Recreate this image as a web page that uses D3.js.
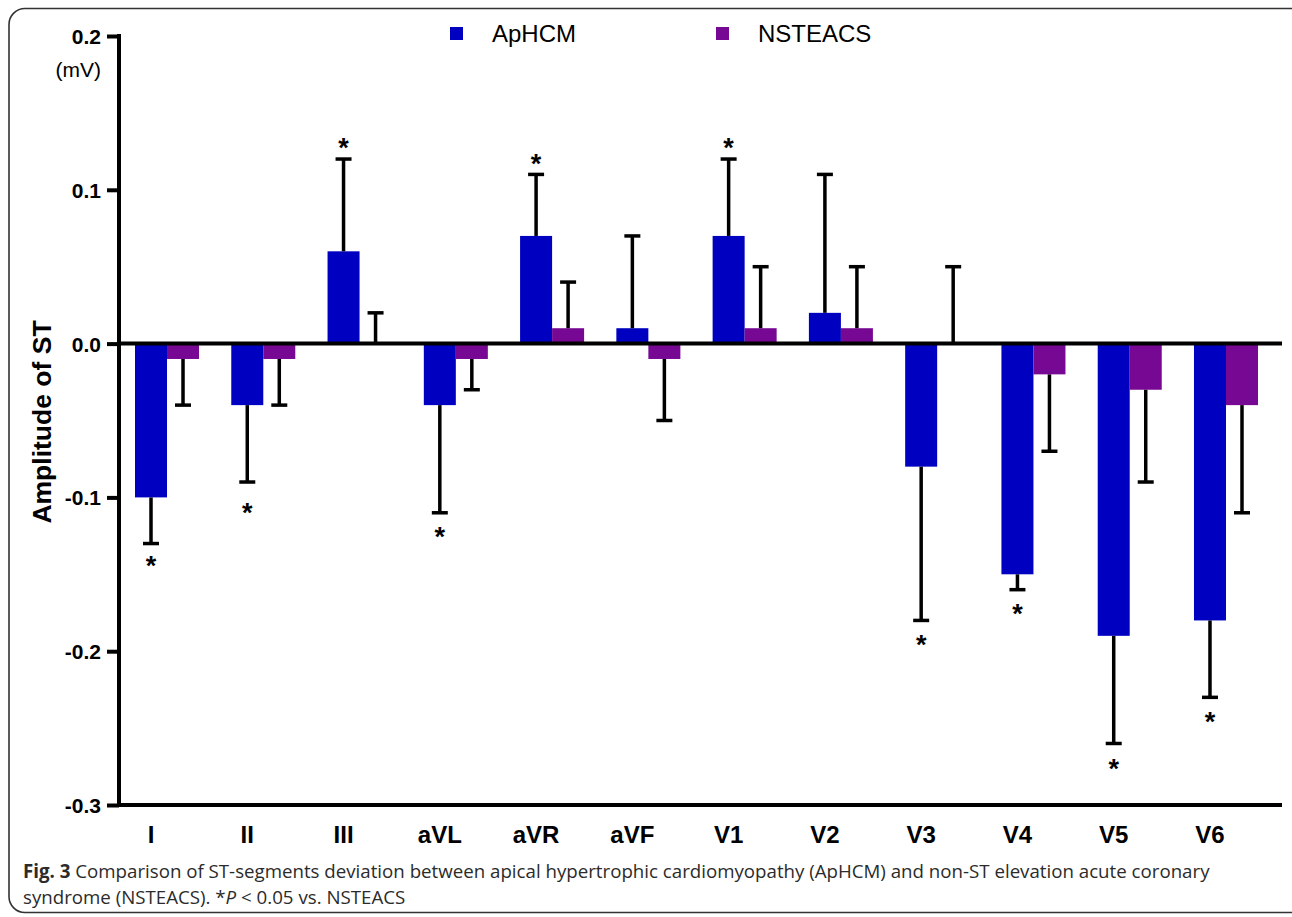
<!DOCTYPE html>
<html>
<head>
<meta charset="utf-8">
<script src="https://cdn.jsdelivr.net/npm/d3@7/dist/d3.min.js"></script>
<style>
  html, body { margin: 0; padding: 0; background: #fff; }
  svg { display: block; }
  .axis text { font-family: "Liberation Sans", Arial, sans-serif; font-weight: bold; fill: #000; }
</style>
</head>
<body>
<svg id="chart" width="1292" height="917"></svg>
<script>
// ECG leads
const leads = ["I", "II", "III", "aVL", "aVR", "aVF", "V1", "V2", "V3", "V4", "V5", "V6"];
const groups = ["ApHCM", "NSTEACS"];

// mean ST amplitude (mV)
const aphcmMean = [-0.10, -0.04, 0.06, -0.04, 0.07, 0.01, 0.07, 0.02, -0.08, -0.15, -0.19, -0.18];
const nsteacsMean = [-0.01, -0.01, 0.00, -0.01, 0.01, -0.01, 0.01, 0.01, 0.00, -0.02, -0.03, -0.04];

// standard deviation (one-sided bars)
const aphcmSD = [0.03, 0.05, 0.06, 0.07, 0.04, 0.06, 0.05, 0.09, 0.10, 0.01, 0.07, 0.05];
const nsteacsSD = [0.03, 0.03, 0.02, 0.02, 0.03, 0.04, 0.04, 0.04, 0.05, 0.05, 0.06, 0.07];

// *P < 0.05 vs. NSTEACS, and the amplitude where each asterisk sits
const aphcmSig = [true, true, true, true, true, false, true, false, true, true, true, true];
const sigMarkAt = [-0.141, -0.106, 0.131, -0.122, 0.121, null, 0.131, null, -0.192, -0.172, -0.273, -0.242];

const yTicks = [0.2, 0.1, 0.0, -0.1, -0.2, -0.3];
const colors = { ApHCM: "#0000c0", NSTEACS: "#770893" };

const svg = d3.select("#chart");

// rounded frame around the figure
svg.append("rect")
  .attr("x", 9).attr("y", 8.5)
  .attr("width", 1300).attr("height", 904)
  .attr("rx", 16).attr("ry", 16)
  .attr("fill", "none").attr("stroke", "#333").attr("stroke-width", 1.6);

const plot = { left: 119, right: 1282, top: 36, bottom: 805 };

const y = d3.scaleLinear().domain([-0.3, 0.2]).range([plot.bottom, plot.top]);
const x = d3.scaleBand().domain(leads)
  .range([plot.left + 16, plot.right - 24])
  .paddingInner(0.335).paddingOuter(0);
const xSub = d3.scaleBand().domain(groups).range([0, x.bandwidth()]);

const rows = leads.map((lead, i) => ({
  lead,
  values: [
    { group: "ApHCM", mean: aphcmMean[i], sd: aphcmSD[i] },
    { group: "NSTEACS", mean: nsteacsMean[i], sd: nsteacsSD[i] }
  ]
}));

// bars
const g = svg.append("g");
const grp = g.selectAll("g.lead").data(rows).join("g")
  .attr("class", "lead")
  .attr("transform", d => `translate(${x(d.lead)},0)`);

grp.selectAll("rect").data(d => d.values).join("rect")
  .attr("x", d => xSub(d.group))
  .attr("width", xSub.bandwidth())
  .attr("y", d => y(Math.max(0, d.mean)))
  .attr("height", d => Math.abs(y(d.mean) - y(0)))
  .attr("fill", d => colors[d.group]);

// one-sided error bars pointing away from zero (zero means point upward)
const capHalf = 8;
grp.selectAll("g.err").data(d => d.values).join("g")
  .attr("class", "err")
  .each(function(d) {
    const cx = xSub(d.group) + xSub.bandwidth() / 2;
    const dir = d.mean >= 0 ? 1 : -1;
    const end = d.mean + dir * d.sd;
    const sel = d3.select(this);
    sel.append("line")
      .attr("x1", cx).attr("x2", cx)
      .attr("y1", y(d.mean)).attr("y2", y(end))
      .attr("stroke", "#000").attr("stroke-width", 3.5);
    sel.append("line")
      .attr("x1", cx - capHalf).attr("x2", cx + capHalf)
      .attr("y1", y(end)).attr("y2", y(end))
      .attr("stroke", "#000").attr("stroke-width", 3.5);
  });

// significance asterisks
leads.forEach((lead, i) => {
  if (!aphcmSig[i]) return;
  const cx = x(lead) + xSub("ApHCM") + xSub.bandwidth() / 2;
  svg.append("text")
    .attr("x", cx).attr("y", y(sigMarkAt[i]) + 15)
    .attr("text-anchor", "middle")
    .attr("font-family", "Liberation Sans, Arial, sans-serif")
    .attr("font-weight", "bold").attr("font-size", 27)
    .text("*");
});

// zero line
svg.append("line")
  .attr("x1", plot.left).attr("x2", plot.right)
  .attr("y1", y(0)).attr("y2", y(0))
  .attr("stroke", "#000").attr("stroke-width", 4);

// y axis (hyphen-minus in tick labels)
const fmt = d => d3.format(".1f")(d).replace("\u2212", "-");
const yAxis = svg.append("g").attr("class", "axis")
  .attr("transform", `translate(${plot.left},0)`)
  .call(d3.axisLeft(y).tickValues(yTicks).tickFormat(fmt)
    .tickSize(12).tickSizeOuter(0).tickPadding(6));
yAxis.select(".domain").attr("stroke-width", 4).attr("stroke", "#000")
  .attr("d", `M0,${plot.top - 2}V${plot.bottom + 2}`);
yAxis.selectAll(".tick line").attr("stroke-width", 4).attr("stroke", "#000");
yAxis.selectAll(".tick text").attr("font-size", 21).attr("dy", "0.36em");

// x axis at the bottom, labels only
const xAxis = svg.append("g").attr("class", "axis")
  .attr("transform", `translate(0,${plot.bottom})`)
  .call(d3.axisBottom(x).tickSize(0).tickPadding(22));
xAxis.select(".domain").attr("stroke-width", 4).attr("stroke", "#000")
  .attr("d", `M${plot.left - 2},0H${plot.right}`);
xAxis.selectAll(".tick")
  .attr("transform", d => `translate(${x(d) + xSub("ApHCM") + xSub.bandwidth() / 2},0)`);
xAxis.selectAll(".tick text").attr("font-size", 24).attr("dy", "0.68em");

// units
svg.append("text")
  .attr("x", 101).attr("y", 77)
  .attr("text-anchor", "end")
  .attr("font-family", "Liberation Sans, Arial, sans-serif")
  .attr("font-size", 21)
  .text("(mV)");

// y title
svg.append("text")
  .attr("transform", "translate(51,422) rotate(-90)")
  .attr("text-anchor", "middle")
  .attr("font-family", "Liberation Sans, Arial, sans-serif")
  .attr("font-weight", "bold").attr("font-size", 26.5)
  .text("Amplitude of ST");

// legend
const legendX = [450, 716];
groups.forEach((gname, i) => {
  svg.append("rect")
    .attr("x", legendX[i]).attr("y", 27)
    .attr("width", 13).attr("height", 13)
    .attr("fill", colors[gname]);
  svg.append("text")
    .attr("x", legendX[i] + 42).attr("y", 42)
    .attr("font-family", "Liberation Sans, Arial, sans-serif")
    .attr("font-size", 24)
    .text(gname);
});

// caption
const cap = svg.append("g")
  .attr("font-family", "Open Sans, sans-serif")
  .attr("font-size", 18.7).attr("fill", "#2b2b2b");
const line1 = cap.append("text").attr("x", 23).attr("y", 878);
line1.append("tspan").attr("font-weight", "bold").text("Fig. 3");
line1.append("tspan").text(" Comparison of ST-segments deviation between apical hypertrophic cardiomyopathy (ApHCM) and non-ST elevation acute coronary");
const line2 = cap.append("text").attr("x", 23).attr("y", 904);
line2.append("tspan").text("syndrome (NSTEACS). *");
line2.append("tspan").attr("font-style", "italic").text("P");
line2.append("tspan").text(" < 0.05 vs. NSTEACS");
</script>
</body>
</html>
